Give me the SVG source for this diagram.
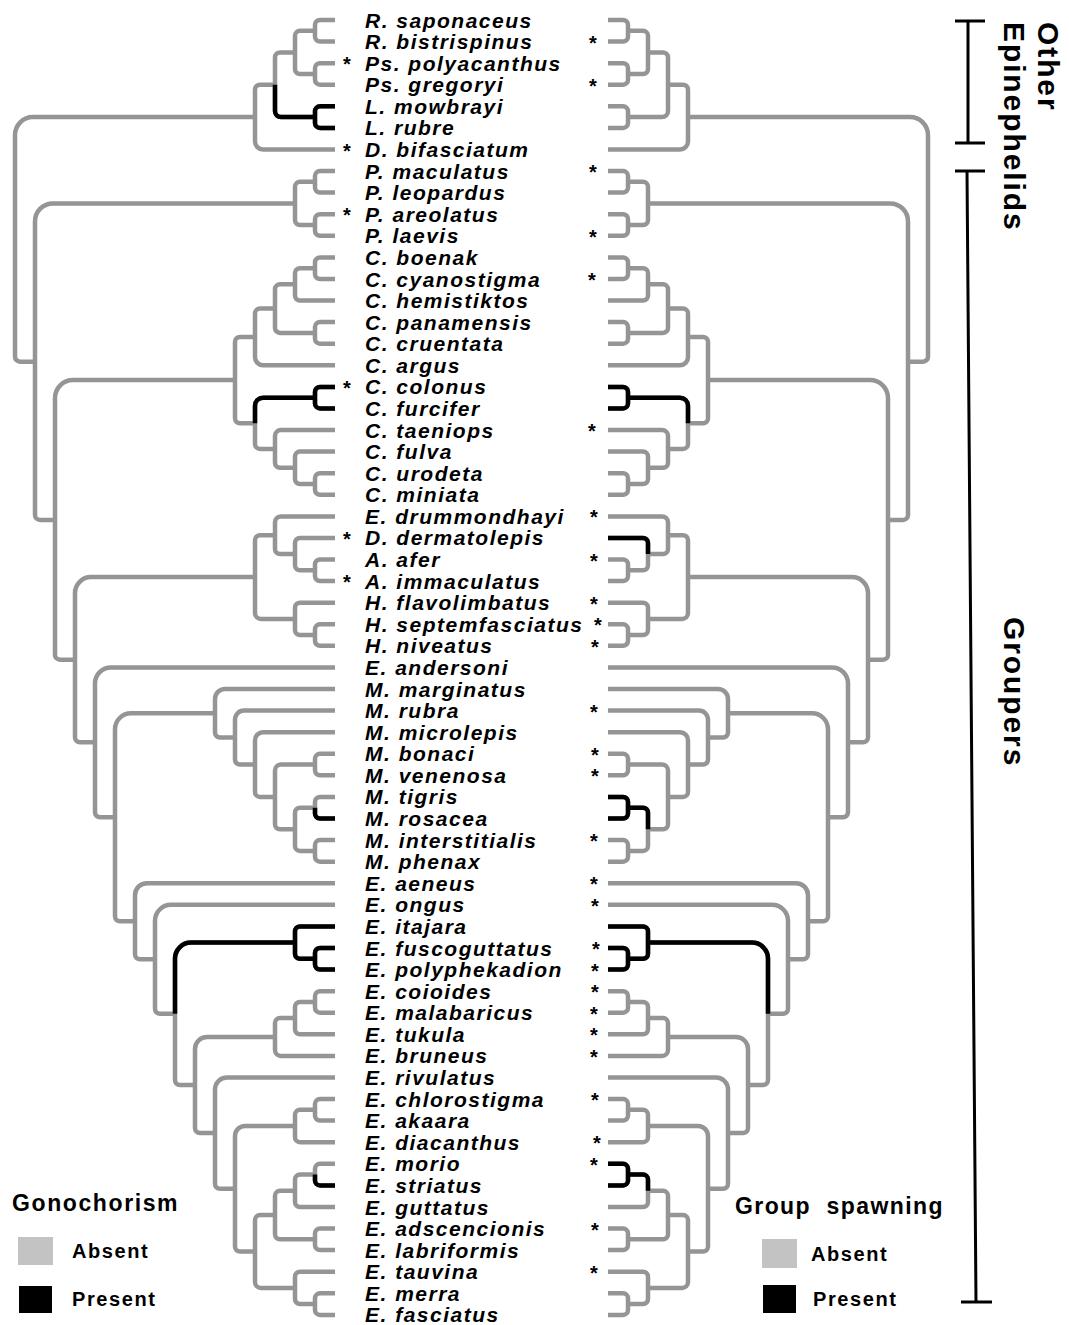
<svg xmlns="http://www.w3.org/2000/svg" xmlns:xlink="http://www.w3.org/1999/xlink" width="1069" height="1325" viewBox="0 0 1069 1325">
<style>
.br{fill:none;stroke:#959595;stroke-width:4.5}
.bk{fill:none;stroke:#000;stroke-width:4.5}
.sp{font-family:"Liberation Sans",Arial,sans-serif;font-style:italic;font-weight:bold;font-size:21px;letter-spacing:1.5px;fill:#000}
.st{font-family:"Liberation Sans",Arial,sans-serif;font-weight:bold;font-size:20px;text-anchor:middle;fill:#000}
.lg{font-family:"Liberation Sans",Arial,sans-serif;font-weight:bold;fill:#000}
.vt{font-family:"Liberation Sans",Arial,sans-serif;font-weight:bold;font-size:30px;letter-spacing:1.9px;fill:#000}
</style>
<defs>
<g id="tree">
<path d="M335 20H320A5 5 0 0 0 315 25V36.6A5 5 0 0 0 320 41.6H335"/>
<path d="M335 63.2H320A5 5 0 0 0 315 68.2V79.7A5 5 0 0 0 320 84.7H335"/>
<path d="M315 30.8H300A5 5 0 0 0 295 35.8V69A5 5 0 0 0 300 74H315"/>
<path d="M335 106.3H320A5 5 0 0 0 315 111.3V122.9A5 5 0 0 0 320 127.9H335"/>
<path d="M295 52.4H280A5 5 0 0 0 275 57.4V111.1A6 6 0 0 0 281 117.1H315"/>
<path d="M275 84.75H260A5 5 0 0 0 255 89.75V141.5A8 8 0 0 0 263 149.5H335"/>
<path d="M335 171.1H320A5 5 0 0 0 315 176.1V187.6A5 5 0 0 0 320 192.6H335"/>
<path d="M335 214.2H320A5 5 0 0 0 315 219.2V230.8A5 5 0 0 0 320 235.8H335"/>
<path d="M315 181.85H300A5 5 0 0 0 295 186.85V220A5 5 0 0 0 300 225H315"/>
<path d="M335 257.4H320A5 5 0 0 0 315 262.4V274A5 5 0 0 0 320 279H335"/>
<path d="M315 268.2H300A5 5 0 0 0 295 273.2V295.5A5 5 0 0 0 300 300.5H335"/>
<path d="M335 322.1H320A5 5 0 0 0 315 327.1V338.7A5 5 0 0 0 320 343.7H335"/>
<path d="M295 284.35H280A5 5 0 0 0 275 289.35V327.9A5 5 0 0 0 280 332.9H315"/>
<path d="M275 308.6H260A5 5 0 0 0 255 313.6V357.3A8 8 0 0 0 263 365.3H335"/>
<path d="M335 386.9H320A5 5 0 0 0 315 391.9V403.4A5 5 0 0 0 320 408.4H335"/>
<path d="M335 473.2H320A5 5 0 0 0 315 478.2V489.8A5 5 0 0 0 320 494.8H335"/>
<path d="M335 451.6H300A5 5 0 0 0 295 456.6V479A5 5 0 0 0 300 484H315"/>
<path d="M335 430H281A6 6 0 0 0 275 436V462.8A5 5 0 0 0 280 467.8H295"/>
<path d="M315 397.65H263A8 8 0 0 0 255 405.65V443.9A5 5 0 0 0 260 448.9H275"/>
<path d="M255 336.95H240A5 5 0 0 0 235 341.95V418.3A5 5 0 0 0 240 423.3H255"/>
<path d="M335 559.5H320A5 5 0 0 0 315 564.5V576.1A5 5 0 0 0 320 581.1H335"/>
<path d="M335 537.9H300A5 5 0 0 0 295 542.9V565.3A5 5 0 0 0 300 570.3H315"/>
<path d="M335 516.4H281A6 6 0 0 0 275 522.4V549.1A5 5 0 0 0 280 554.1H295"/>
<path d="M335 624.3H320A5 5 0 0 0 315 629.3V640.8A5 5 0 0 0 320 645.8H335"/>
<path d="M335 602.7H300A5 5 0 0 0 295 607.7V630.05A5 5 0 0 0 300 635.05H315"/>
<path d="M275 535.25H260A5 5 0 0 0 255 540.25V612.9A6 6 0 0 0 261 618.9H295"/>
<path d="M335 753.8H320A5 5 0 0 0 315 758.8V770.3A5 5 0 0 0 320 775.3H335"/>
<path d="M335 796.9H320A5 5 0 0 0 315 801.9V813.5A5 5 0 0 0 320 818.5H335"/>
<path d="M335 840.1H320A5 5 0 0 0 315 845.1V856.7A5 5 0 0 0 320 861.7H335"/>
<path d="M315 807.7H300A5 5 0 0 0 295 812.7V845.9A5 5 0 0 0 300 850.9H315"/>
<path d="M315 764.55H281A6 6 0 0 0 275 770.55V824.3A5 5 0 0 0 280 829.3H295"/>
<path d="M335 732.2H263A8 8 0 0 0 255 740.2V791.9A5 5 0 0 0 260 796.9H275"/>
<path d="M335 710.6H244A9 9 0 0 0 235 719.6V759.55A5 5 0 0 0 240 764.55H255"/>
<path d="M335 689H225A10 10 0 0 0 215 699V732.6A5 5 0 0 0 220 737.6H235"/>
<path d="M335 948H320A5 5 0 0 0 315 953V964.6A5 5 0 0 0 320 969.6H335"/>
<path d="M335 926.4H300A5 5 0 0 0 295 931.4V953.8A5 5 0 0 0 300 958.8H315"/>
<path d="M335 991.2H320A5 5 0 0 0 315 996.2V1007.7A5 5 0 0 0 320 1012.7H335"/>
<path d="M315 1001.95H300A5 5 0 0 0 295 1006.95V1029.3A5 5 0 0 0 300 1034.3H335"/>
<path d="M295 1018.1H280A5 5 0 0 0 275 1023.1V1049.9A6 6 0 0 0 281 1055.9H335"/>
<path d="M335 1099.1H320A5 5 0 0 0 315 1104.1V1115.6A5 5 0 0 0 320 1120.6H335"/>
<path d="M315 1109.85H300A5 5 0 0 0 295 1114.85V1137.2A5 5 0 0 0 300 1142.2H335"/>
<path d="M335 1163.8H320A5 5 0 0 0 315 1168.8V1180.4A5 5 0 0 0 320 1185.4H335"/>
<path d="M315 1174.6H300A5 5 0 0 0 295 1179.6V1202A5 5 0 0 0 300 1207H335"/>
<path d="M335 1228.6H320A5 5 0 0 0 315 1233.6V1245.1A5 5 0 0 0 320 1250.1H335"/>
<path d="M295 1190.8H280A5 5 0 0 0 275 1195.8V1234.35A5 5 0 0 0 280 1239.35H315"/>
<path d="M335 1293.3H320A5 5 0 0 0 315 1298.3V1309.9A5 5 0 0 0 320 1314.9H335"/>
<path d="M335 1271.7H300A5 5 0 0 0 295 1276.7V1299.1A5 5 0 0 0 300 1304.1H315"/>
<path d="M275 1215.1H260A5 5 0 0 0 255 1220.1V1281.9A6 6 0 0 0 261 1287.9H295"/>
<path d="M295 1126H245A10 10 0 0 0 235 1136V1246.5A5 5 0 0 0 240 1251.5H255"/>
<path d="M335 1077.5H227A12 12 0 0 0 215 1089.5V1183.75A5 5 0 0 0 220 1188.75H235"/>
<path d="M275 1037H207A12 12 0 0 0 195 1049V1128.1A5 5 0 0 0 200 1133.1H215"/>
<path d="M295 942.6H191A16 16 0 0 0 175 958.6V1080.05A5 5 0 0 0 180 1085.05H195"/>
<path d="M335 904.8H171A16 16 0 0 0 155 920.8V1008.8A5 5 0 0 0 160 1013.8H175"/>
<path d="M335 883.2H147A12 12 0 0 0 135 895.2V954.3A5 5 0 0 0 140 959.3H155"/>
<path d="M215 713.3H131A16 16 0 0 0 115 729.3V916.25A5 5 0 0 0 120 921.25H135"/>
<path d="M335 667.4H111A16 16 0 0 0 95 683.4V812.3A5 5 0 0 0 100 817.3H115"/>
<path d="M255 577.1H91A16 16 0 0 0 75 593.1V737.35A5 5 0 0 0 80 742.35H95"/>
<path d="M235 380.1H73A18 18 0 0 0 55 398.1V654.7A5 5 0 0 0 60 659.7H75"/>
<path d="M295 203.4H53A18 18 0 0 0 35 221.4V514.9A5 5 0 0 0 40 519.9H55"/>
<path d="M255 117.1H33A18 18 0 0 0 15 135.1V356.65A5 5 0 0 0 20 361.65H35"/>
</g>
<g id="blackCommon">
<path d="M335 386.9H320A5 5 0 0 0 315 391.9V403.4A5 5 0 0 0 320 408.4H335"/>
<path d="M315 397.65H263A8 8 0 0 0 255 405.65V423.3"/>
<path d="M335 948H320A5 5 0 0 0 315 953V964.6A5 5 0 0 0 320 969.6H335"/>
<path d="M335 926.4H300A5 5 0 0 0 295 931.4V953.8A5 5 0 0 0 300 958.8H315"/>
<path d="M295 942.6H191A16 16 0 0 0 175 958.6V1013.8"/>
</g>
</defs>

<g id="connectors">
<g id="tree-gonochorism">
<use xlink:href="#tree" class="br"/>
<use xlink:href="#blackCommon" class="bk"/>
<path class="bk" d="M335 106.3H320A5 5 0 0 0 315 111.3V122.9A5 5 0 0 0 320 127.9H335"/>
<path class="bk" d="M275 84.75V111.1A6 6 0 0 0 281 117.1H315"/>
<path class="bk" d="M315 807.7V813.5A5 5 0 0 0 320 818.5H335"/>
<path class="bk" d="M315 1174.6V1180.4A5 5 0 0 0 320 1185.4H335"/>
</g>
<g id="tree-group-spawning" transform="matrix(-1 0 0 1 943 0)">
<use xlink:href="#tree" class="br"/>
<use xlink:href="#blackCommon" class="bk"/>
<path class="bk" d="M335 537.9H300A5 5 0 0 0 295 542.9V554.1"/>
<path class="bk" d="M335 796.9H320A5 5 0 0 0 315 801.9V813.5A5 5 0 0 0 320 818.5H335"/>
<path class="bk" d="M315 807.7H300A5 5 0 0 0 295 812.7V829.3"/>
<path class="bk" d="M335 1163.8H320A5 5 0 0 0 315 1168.8V1180.4A5 5 0 0 0 320 1185.4H335"/>
<path class="bk" d="M315 1174.6H300A5 5 0 0 0 295 1179.6V1190.8"/>
</g>
</g>

<g id="taxa" class="sp">
<text id="t1" x="365" y="27.5">R. saponaceus</text>
<text id="t2" x="365" y="49.1">R. bistrispinus</text>
<text id="t3" x="365" y="70.7">Ps. polyacanthus</text>
<text id="t4" x="365" y="92.2">Ps. gregoryi</text>
<text id="t5" x="365" y="113.8">L. mowbrayi</text>
<text id="t6" x="365" y="135.4">L. rubre</text>
<text id="t7" x="365" y="157">D. bifasciatum</text>
<text id="t8" x="365" y="178.6">P. maculatus</text>
<text id="t9" x="365" y="200.1">P. leopardus</text>
<text id="t10" x="365" y="221.7">P. areolatus</text>
<text id="t11" x="365" y="243.3">P. laevis</text>
<text id="t12" x="365" y="264.9">C. boenak</text>
<text id="t13" x="365" y="286.5">C. cyanostigma</text>
<text id="t14" x="365" y="308">C. hemistiktos</text>
<text id="t15" x="365" y="329.6">C. panamensis</text>
<text id="t16" x="365" y="351.2">C. cruentata</text>
<text id="t17" x="365" y="372.8">C. argus</text>
<text id="t18" x="365" y="394.4">C. colonus</text>
<text id="t19" x="365" y="415.9">C. furcifer</text>
<text id="t20" x="365" y="437.5">C. taeniops</text>
<text id="t21" x="365" y="459.1">C. fulva</text>
<text id="t22" x="365" y="480.7">C. urodeta</text>
<text id="t23" x="365" y="502.3">C. miniata</text>
<text id="t24" x="365" y="523.9">E. drummondhayi</text>
<text id="t25" x="365" y="545.4">D. dermatolepis</text>
<text id="t26" x="365" y="567">A. afer</text>
<text id="t27" x="365" y="588.6">A. immaculatus</text>
<text id="t28" x="365" y="610.2">H. flavolimbatus</text>
<text id="t29" x="365" y="631.8">H. septemfasciatus</text>
<text id="t30" x="365" y="653.3">H. niveatus</text>
<text id="t31" x="365" y="674.9">E. andersoni</text>
<text id="t32" x="365" y="696.5">M. marginatus</text>
<text id="t33" x="365" y="718.1">M. rubra</text>
<text id="t34" x="365" y="739.7">M. microlepis</text>
<text id="t35" x="365" y="761.3">M. bonaci</text>
<text id="t36" x="365" y="782.8">M. venenosa</text>
<text id="t37" x="365" y="804.4">M. tigris</text>
<text id="t38" x="365" y="826">M. rosacea</text>
<text id="t39" x="365" y="847.6">M. interstitialis</text>
<text id="t40" x="365" y="869.2">M. phenax</text>
<text id="t41" x="365" y="890.7">E. aeneus</text>
<text id="t42" x="365" y="912.3">E. ongus</text>
<text id="t43" x="365" y="933.9">E. itajara</text>
<text id="t44" x="365" y="955.5">E. fuscoguttatus</text>
<text id="t45" x="365" y="977.1">E. polyphekadion</text>
<text id="t46" x="365" y="998.7">E. coioides</text>
<text id="t47" x="365" y="1020.2">E. malabaricus</text>
<text id="t48" x="365" y="1041.8">E. tukula</text>
<text id="t49" x="365" y="1063.4">E. bruneus</text>
<text id="t50" x="365" y="1085">E. rivulatus</text>
<text id="t51" x="365" y="1106.6">E. chlorostigma</text>
<text id="t52" x="365" y="1128.1">E. akaara</text>
<text id="t53" x="365" y="1149.7">E. diacanthus</text>
<text id="t54" x="365" y="1171.3">E. morio</text>
<text id="t55" x="365" y="1192.9">E. striatus</text>
<text id="t56" x="365" y="1214.5">E. guttatus</text>
<text id="t57" x="365" y="1236.1">E. adscencionis</text>
<text id="t58" x="365" y="1257.6">E. labriformis</text>
<text id="t59" x="365" y="1279.2">E. tauvina</text>
<text id="t60" x="365" y="1300.8">E. merra</text>
<text id="t61" x="365" y="1322.4">E. fasciatus</text>
</g>

<g id="stars" class="st">
<text x="347" y="71.2">*</text>
<text x="347" y="157.5">*</text>
<text x="347" y="222.2">*</text>
<text x="347" y="394.9">*</text>
<text x="347" y="545.9">*</text>
<text x="347" y="589.1">*</text>
<text x="593" y="49.6">*</text>
<text x="593" y="92.7">*</text>
<text x="593" y="179.1">*</text>
<text x="593" y="243.8">*</text>
<text x="592" y="287">*</text>
<text x="592" y="438">*</text>
<text x="594" y="524.4">*</text>
<text x="594" y="567.5">*</text>
<text x="594" y="610.7">*</text>
<text x="598" y="632.3">*</text>
<text x="595" y="653.8">*</text>
<text x="594" y="718.6">*</text>
<text x="595" y="761.8">*</text>
<text x="595" y="783.3">*</text>
<text x="594" y="848.1">*</text>
<text x="594" y="891.2">*</text>
<text x="595" y="912.8">*</text>
<text x="596" y="956">*</text>
<text x="595" y="977.6">*</text>
<text x="595" y="999.2">*</text>
<text x="594" y="1020.7">*</text>
<text x="594" y="1042.3">*</text>
<text x="594" y="1063.9">*</text>
<text x="595" y="1107.1">*</text>
<text x="597" y="1150.2">*</text>
<text x="594" y="1171.8">*</text>
<text x="595" y="1236.6">*</text>
<text x="594" y="1279.7">*</text>
</g>

<g id="legend-gonochorism">
<text class="lg" x="12" y="1211" font-size="23" letter-spacing="1.6">Gonochorism</text>
<rect x="18" y="1237" width="35" height="28" fill="#c3c3c3"/>
<text class="lg" x="72" y="1258" font-size="20" letter-spacing="1.6">Absent</text>
<rect x="19" y="1286" width="33" height="27" fill="#000"/>
<text class="lg" x="72" y="1306" font-size="20" letter-spacing="1.6">Present</text>
</g>

<g id="legend-spawning">
<text class="lg" x="735" y="1214" font-size="23" letter-spacing="1.4" style="white-space:pre">Group  spawning</text>
<rect x="762" y="1239" width="35" height="29" fill="#c3c3c3"/>
<text class="lg" x="811" y="1261" font-size="20" letter-spacing="1.6">Absent</text>
<rect x="763" y="1285" width="33" height="28" fill="#000"/>
<text class="lg" x="813" y="1306" font-size="20" letter-spacing="1.6">Present</text>
</g>

<g id="bracket-other" stroke="#000" stroke-width="3" fill="none">
<path d="M955 21H985M968 21V143M955 143H985"/>
</g>
<g id="bracket-groupers" stroke="#000" stroke-width="3" fill="none">
<path d="M955 171H985M967 171L976 1302M961 1302H992"/>
</g>
<g id="group-labels" class="vt">
<text transform="translate(1038,22) rotate(90)">Other</text>
<text transform="translate(1004,22) rotate(90)">Epinephelids</text>
<text transform="translate(1004,617) rotate(90)">Groupers</text>
</g>
</svg>
